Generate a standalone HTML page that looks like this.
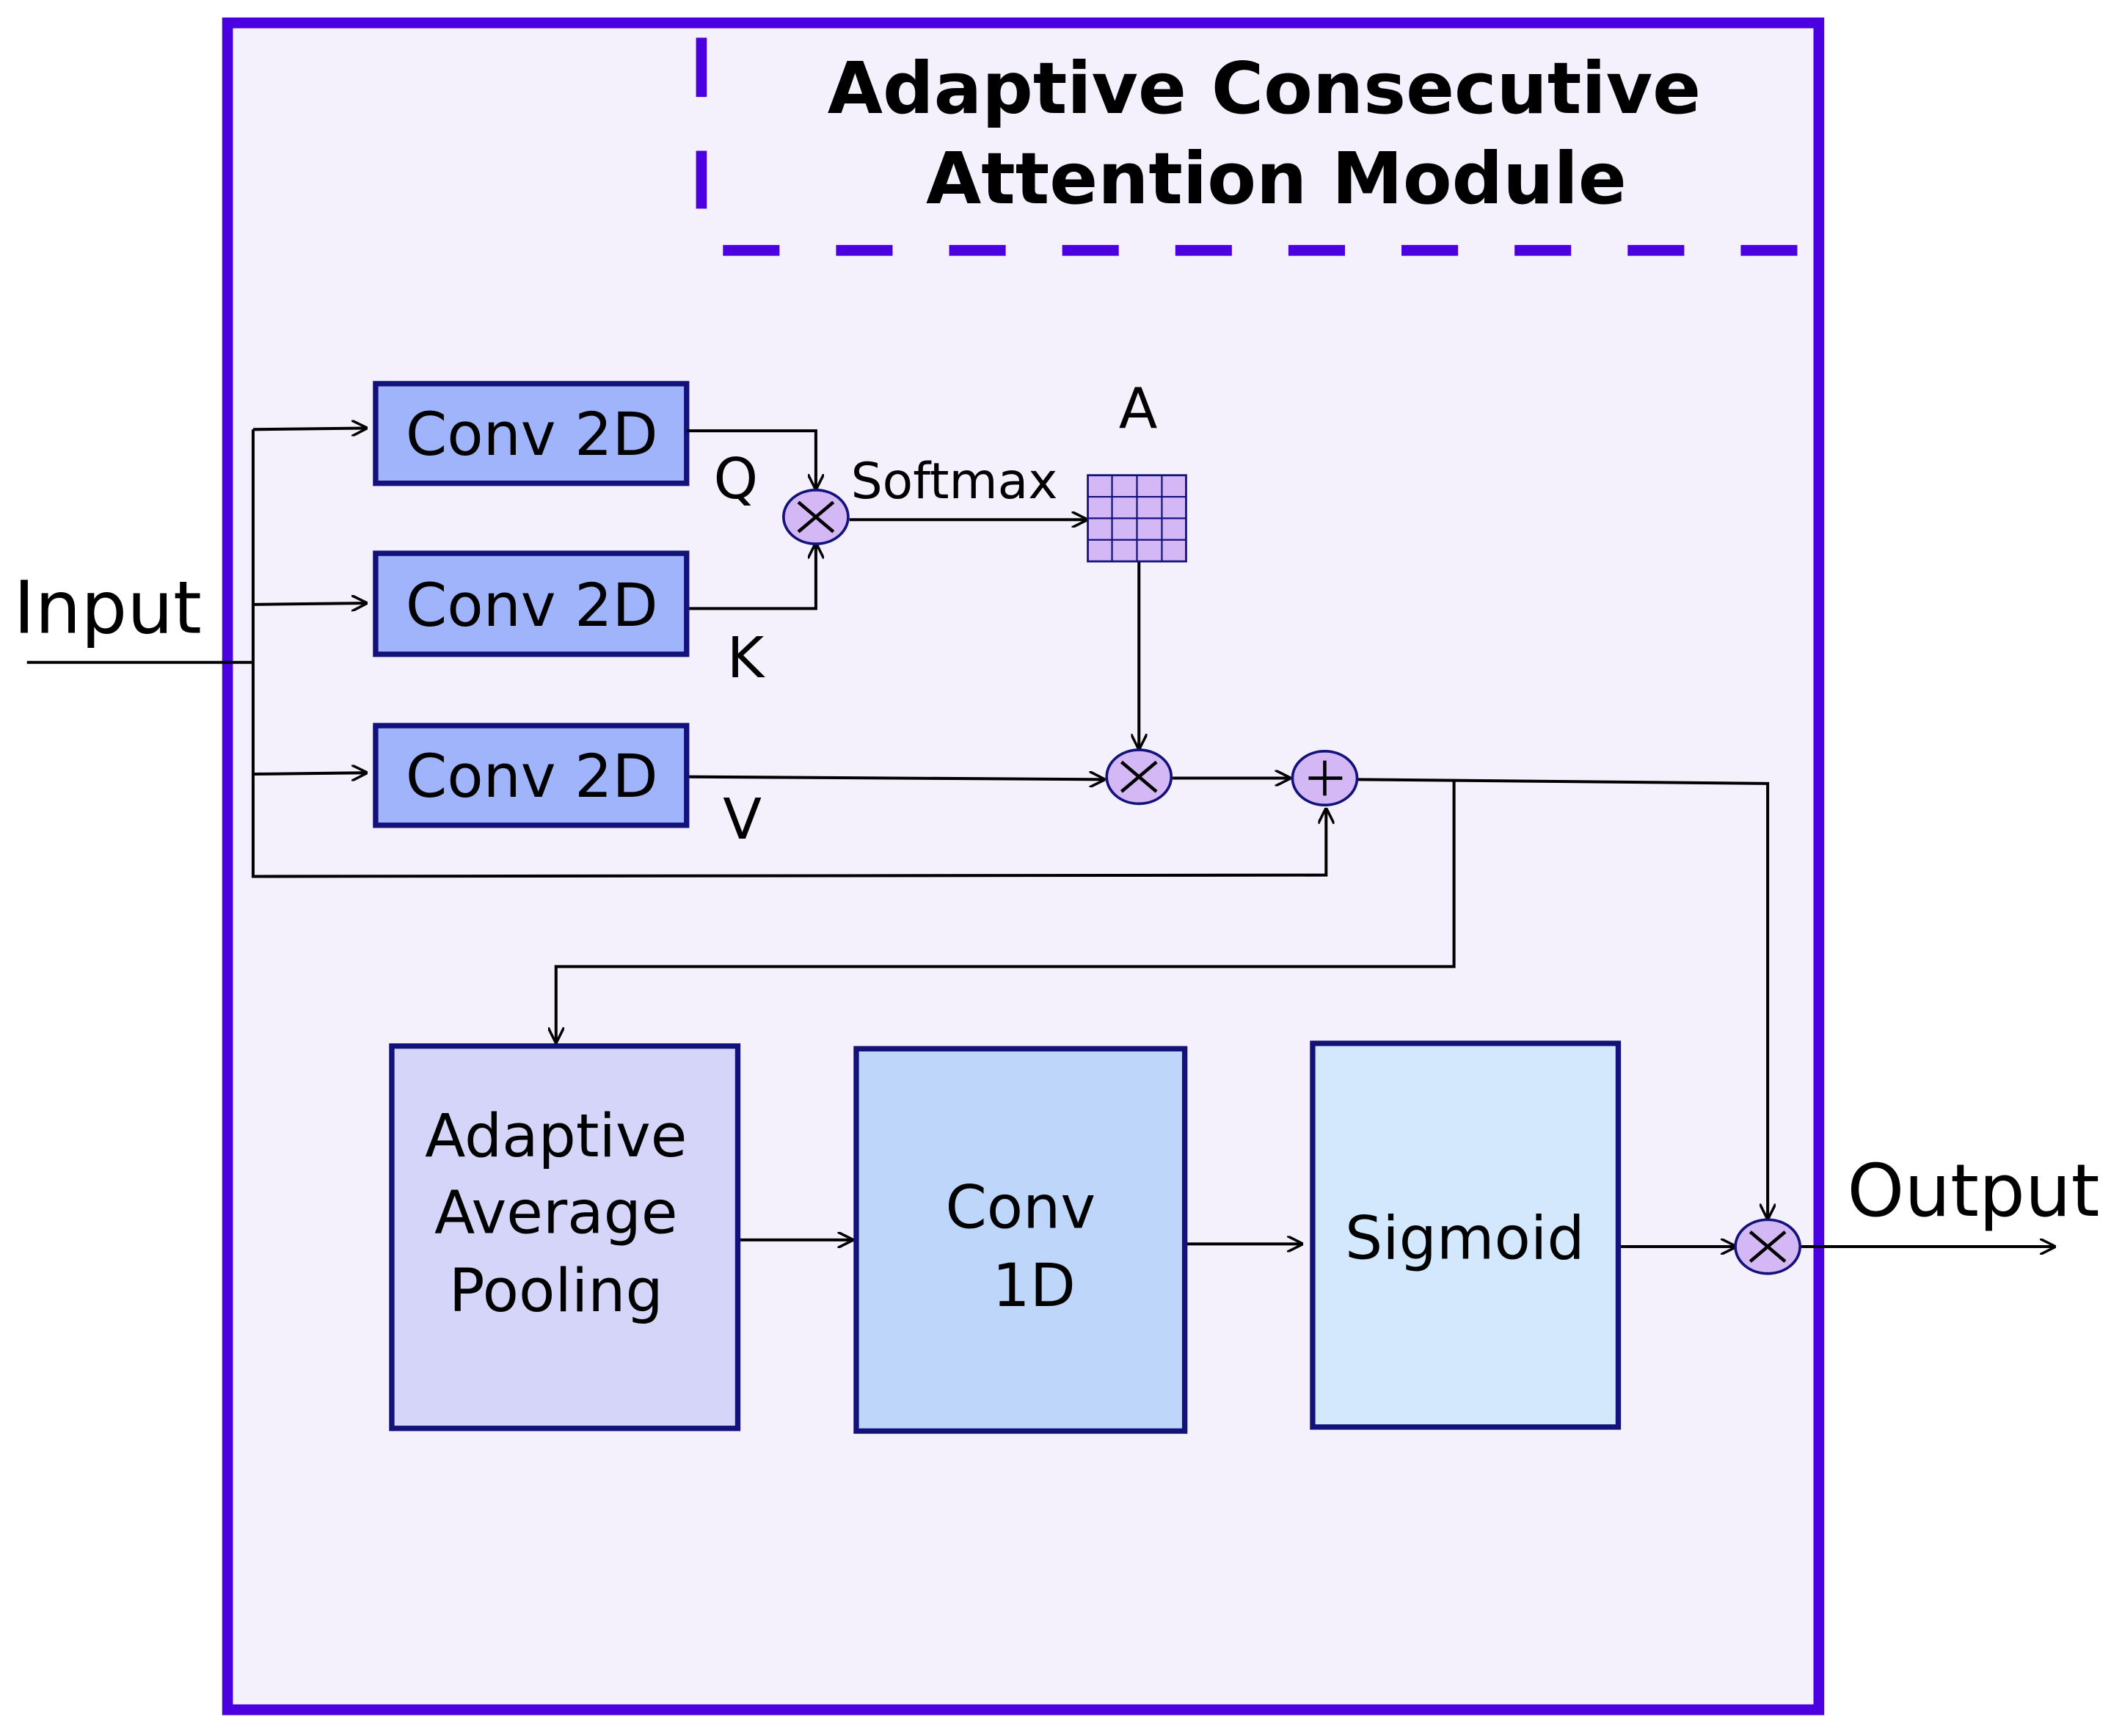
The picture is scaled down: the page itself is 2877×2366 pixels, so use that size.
<!DOCTYPE html>
<html><head><meta charset="utf-8"><style>html,body{margin:0;padding:0;background:#fff}svg{display:block}</style></head>
<body>
<svg width="2877" height="2366" viewBox="0 0 1568 1289.5" preserveAspectRatio="none" xmlns="http://www.w3.org/2000/svg" font-family="'DejaVu Sans','Liberation Sans',sans-serif">
<defs>
<marker id="a" viewBox="0 0 10 10" refX="10" refY="5" markerWidth="12" markerHeight="12" markerUnits="userSpaceOnUse" orient="auto"><path d="M0,0 L10,5 L0,10" fill="none" stroke="#000" stroke-width="1.6"/></marker>
</defs>
<rect width="1568" height="1289.5" fill="#fff"/>
<rect x="169" y="17" width="1182" height="1253" fill="#F4F1FD" stroke="#4B00E0" stroke-width="8"/>
<line x1="521" y1="28" x2="521" y2="155" stroke="#4B00E0" stroke-width="8" stroke-dasharray="44,40"/>
<line x1="537" y1="186" x2="1350" y2="186" stroke="#4B00E0" stroke-width="8" stroke-dasharray="42,42"/>
<text x="939" y="84" font-size="53" font-weight="bold" text-anchor="middle">Adaptive Consecutive</text>
<text x="948" y="151" font-size="53" font-weight="bold" text-anchor="middle">Attention Module</text>

<g fill="#9FB4FB" stroke="#12127A" stroke-width="4">
<rect x="279" y="285" width="231" height="74"/>
<rect x="279" y="411" width="231" height="75"/>
<rect x="279" y="539" width="231" height="74"/>
</g>
<g font-size="44" text-anchor="middle">
<text x="395" y="338">Conv 2D</text>
<text x="395" y="465">Conv 2D</text>
<text x="395" y="592">Conv 2D</text>
</g>
<text x="10" y="470" font-size="54">Input</text>
<text x="1372" y="903" font-size="54">Output</text>
<g font-size="42">
<text x="530" y="370">Q</text><text x="540" y="503">K</text><text x="537" y="623">V</text>
<text x="831" y="318">A</text>
</g>
<text x="632" y="370" font-size="37">Softmax</text>

<g fill="none" stroke="#000" stroke-width="2.2">
<polyline points="20,492 188,492"/>
<polyline points="188,319 188,651 985,650 985,600" marker-end="url(#a)"/>
<line x1="188" y1="319" x2="273" y2="318" marker-end="url(#a)"/>
<line x1="188" y1="449" x2="273" y2="448" marker-end="url(#a)"/>
<line x1="188" y1="575" x2="273" y2="574" marker-end="url(#a)"/>
<polyline points="510,320 606,320 606,364" marker-end="url(#a)"/>
<polyline points="512,452 606,452 606,403" marker-end="url(#a)"/>
<line x1="631" y1="386" x2="808" y2="386" marker-end="url(#a)"/>
<line x1="846" y1="417" x2="846" y2="557" marker-end="url(#a)"/>
<line x1="512" y1="577" x2="821" y2="579" marker-end="url(#a)"/>
<line x1="871" y1="578" x2="959" y2="578" marker-end="url(#a)"/>
<polyline points="1008,579 1313,582 1313,906" marker-end="url(#a)"/>
<polyline points="1080,580 1080,718 413,718 413,775" marker-end="url(#a)"/>
<line x1="548" y1="921" x2="634" y2="921" marker-end="url(#a)"/>
<line x1="880" y1="924" x2="968" y2="924" marker-end="url(#a)"/>
<line x1="1202" y1="926" x2="1290" y2="926" marker-end="url(#a)"/>
<line x1="1338" y1="926" x2="1527" y2="926" marker-end="url(#a)"/>
</g>

<g fill="#D3B8F5" stroke="#12127A" stroke-width="2">
<ellipse cx="606" cy="384" rx="24" ry="20"/>
<ellipse cx="846" cy="577" rx="24" ry="20"/>
<ellipse cx="984" cy="578" rx="24" ry="20"/>
<ellipse cx="1313" cy="926" rx="24" ry="20"/>
</g>
<g stroke="#000" stroke-width="2.5">
<line x1="593" y1="373" x2="619" y2="395"/><line x1="619" y1="373" x2="593" y2="395"/>
<line x1="833" y1="566" x2="859" y2="588"/><line x1="859" y1="566" x2="833" y2="588"/>
<line x1="1300" y1="915" x2="1326" y2="937"/><line x1="1326" y1="915" x2="1300" y2="937"/>
<line x1="972" y1="578" x2="997" y2="578"/><line x1="984" y1="565" x2="984" y2="591"/>
</g>

<rect x="808" y="353" width="73" height="64" fill="#D3B8F5" stroke="#12127A" stroke-width="1.5"/>
<g stroke="#12127A" stroke-width="1.2">
<line x1="826" y1="353" x2="826" y2="417"/><line x1="844.5" y1="353" x2="844.5" y2="417"/><line x1="863" y1="353" x2="863" y2="417"/>
<line x1="808" y1="369" x2="881" y2="369"/><line x1="808" y1="385" x2="881" y2="385"/><line x1="808" y1="401" x2="881" y2="401"/>
</g>

<g stroke="#12127A" stroke-width="4">
<rect x="291" y="777" width="257" height="284" fill="#D5D5FA"/>
<rect x="636" y="779" width="244" height="284" fill="#BFD6FB"/>
<rect x="975" y="775" width="227" height="285" fill="#D3E8FC"/>
</g>
<g font-size="44" text-anchor="middle">
<text x="413" y="859">Adaptive</text>
<text x="413" y="916">Average</text>
<text x="413" y="974">Pooling</text>
<text x="758" y="912">Conv</text>
<text x="768" y="970">1D</text>
<text x="1088" y="935">Sigmoid</text>
</g>
</svg>
</body></html>
